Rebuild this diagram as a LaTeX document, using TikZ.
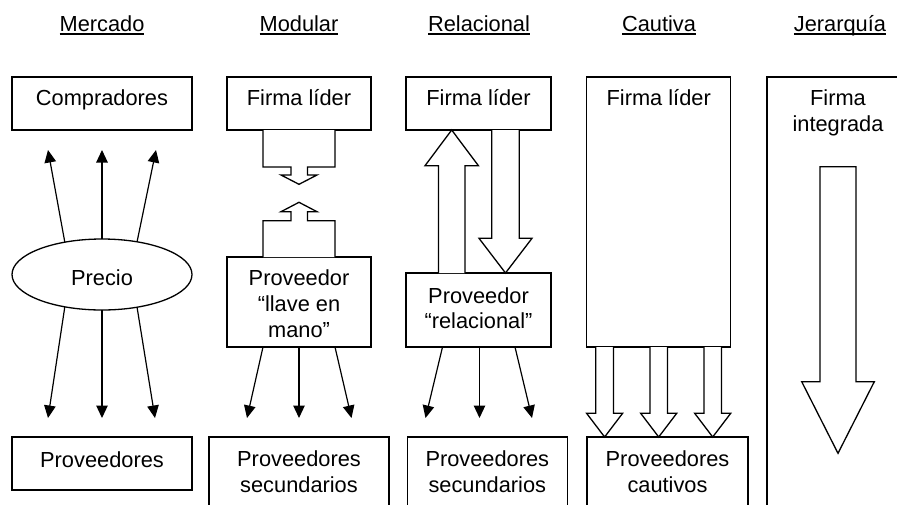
\documentclass[tikz,border=0pt]{standalone}
\usepackage{fontspec}
\setmainfont{Liberation Sans}
\usetikzlibrary{arrows.meta,shapes.geometric,calc}
\begin{document}
\begin{tikzpicture}[x=1pt,y=-1pt,
  lw/.style={line width=1.3pt},
  bx/.style={draw, lw, rectangle, inner sep=0pt, outer sep=0pt},
  txt/.style={inner sep=0pt, outer sep=0pt, anchor=base,
              font=\fontsize{21.8pt}{26pt}\selectfont},
  uline/.style={line width=1.4pt},
  conn/.style={line width=1.2pt, -{Triangle[length=12.5pt,width=11.5pt]}},
  blk/.style={draw, lw, fill=white, line join=miter},
]
\useasboundingbox (0,0) rectangle (897,504);
\clip (0,0) rectangle (897,504);

% column titles
\foreach \nm/\x/\t in {tm/102/Mercado, tmo/299/Modular, tr/479/Relacional,
                       tc/659/Cautiva, tj/840/Jerarquía}{
  \node[txt] (\nm) at (\x,31.5) {\t};
  \draw[uline] ([yshift=-2.4pt]\nm.base west) -- ([yshift=-2.4pt]\nm.base east);
}

% ---- Mercado ----
\node[bx, minimum width=180pt, minimum height=53pt] (comp) at (102,103.5) {};
\node[bx, minimum width=180pt, minimum height=53pt] (prov) at (102,463.5) {};
\node[draw, lw, ellipse, inner sep=0pt, outer sep=0pt,
      minimum width=180pt, minimum height=71pt] (precio) at (102,274.5) {};
\node[txt] at (102,105) {Compradores};
\node[txt] at (102,285) {Precio};
\node[txt] at (102,467) {Proveedores};

\coordinate (mu1) at (48,150);  \coordinate (mu2) at (102,150); \coordinate (mu3) at (156,150);
\coordinate (md1) at (48,418);  \coordinate (md2) at (102,418); \coordinate (md3) at (155,418);
\draw[conn] (precio.139) -- (mu1);
\draw[conn] (precio.north) -- (mu2);
\draw[conn] (precio.43) -- (mu3);
\draw[conn] (precio.221) -- (md1);
\draw[conn] (precio.south) -- (md2);
\draw[conn] (precio.317) -- (md3);

% ---- Modular ----
\node[bx, minimum width=144pt, minimum height=53pt] (mfirma) at (299,103.5) {};
\node[bx, minimum width=144pt, minimum height=90pt] (llave) at (299,302) {};
\node[bx, minimum width=180pt, minimum height=78pt] (msec) at (299,476) {};
\node[txt] at (299,105) {Firma líder};
\node[txt] at (299,285) {Proveedor};
\node[txt] at (299,311) {“llave en};
\node[txt] at (299,337) {mano”};
\node[txt] at (299,466.5) {Proveedores};
\node[txt] at (299,492) {secundarios};

\draw[blk] (263,130) -- (263,167) -- (291,167) -- (291,175) -- (281,175) -- (299,184.3)
  -- (317,175) -- (307.5,175) -- (307.5,167) -- (335,167) -- (335,130);
\draw[blk] (263,257) -- (263,220.7) -- (291,220.7) -- (291,211.7) -- (281,211.7) -- (299,202.3)
  -- (317,211.7) -- (307.5,211.7) -- (307.5,220.7) -- (335,220.7) -- (335,257);

\coordinate (ml1) at (247,418); \coordinate (ml2) at (299,418); \coordinate (ml3) at (351.5,418);
\draw[conn] ($(llave.south)+(-36,0)$) -- (ml1);
\draw[conn] (llave.south) -- (ml2);
\draw[conn] ($(llave.south)+(36,0)$) -- (ml3);

% ---- Relacional ----
\node[bx, minimum width=145pt, minimum height=53pt] (rfirma) at (478.5,103.5) {};
\node[bx, minimum width=145pt, minimum height=74pt] (rel) at (478.5,310) {};
\node[bx, minimum width=160pt, minimum height=78pt] (rsec) at (487.3,476) {};
\node[txt] at (478.5,105) {Firma líder};
\node[txt] at (478.5,303) {Proveedor};
\node[txt] at (478.5,328.5) {“relacional”};
\node[txt] at (487.3,466.5) {Proveedores};
\node[txt] at (487.3,492) {secundarios};

\draw[blk] (438.4,273) -- (438.4,165.7) -- (425,165.7) -- (451.7,130)
  -- (478.4,165.7) -- (465,165.7) -- (465,273);
\draw[blk] (491.7,130) -- (491.7,238.3) -- (479,238.3) -- (505.5,273)
  -- (532,238.3) -- (519.3,238.3) -- (519.3,130);

\coordinate (rl1) at (425.5,418); \coordinate (rl2) at (479.5,418); \coordinate (rl3) at (532,418);
\draw[conn] ($(rel.south)+(-36,0)$) -- (rl1);
\draw[conn] ($(rel.south)+(1,0)$) -- (rl2);
\draw[conn] ($(rel.south)+(36.5,0)$) -- (rl3);

% ---- Cautiva ----
\node[bx, minimum width=144pt, minimum height=270pt] (cfirma) at (658.7,212) {};
\node[bx, minimum width=161pt, minimum height=78pt] (ccaut) at (667.5,476) {};
\node[txt] at (658.7,105) {Firma líder};
\node[txt] at (667.5,466.5) {Proveedores};
\node[txt] at (667.5,492) {cautivos};

\foreach \c in {604.6,658.7,712.7}{
  \draw[blk] ({\c-8.8},347) -- ({\c-8.8},413.3) -- ({\c-18},413.3) -- (\c,437)
    -- ({\c+18},413.3) -- ({\c+8.8},413.3) -- ({\c+8.8},347);
}

% ---- Jerarquía ----
\node[bx, minimum width=142pt, minimum height=438pt] (jer) at (838,296) {};
\node[txt] at (838,105) {Firma};
\node[txt] at (838,131) {integrada};
\draw[blk] (820,166.7) -- (820,381.7) -- (801.7,381.7) -- (838,453.3)
  -- (874.3,381.7) -- (856,381.7) -- (856,166.7) -- cycle;
\end{tikzpicture}
\end{document}
